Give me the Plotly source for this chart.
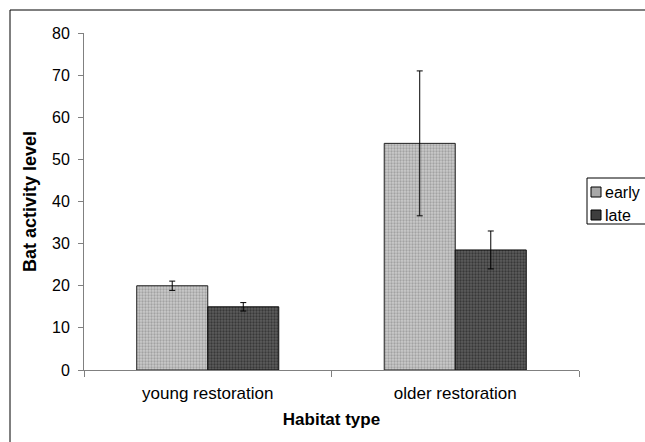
import plotly.graph_objects as go

categories = ["young restoration", "older restoration"]
series_names = ["early", "late"]
early = [20.0, 53.8]
early_err = [1.1, 17.2]
late = [15.0, 28.5]
late_err = [1.0, 4.5]
y_ticks = [0, 10, 20, 30, 40, 50, 60, 70, 80]

W, H = 645, 442
L, R, T, B = 84, 579, 33, 370
pw, ph = R - L, B - T


def px(x):
    return (x - L) / pw


def py(y):
    return (B - y) / ph


early_style = dict(fg="#7a7a7a", bg="#cacaca", solid="#a8a8a8")
late_style = dict(fg="#141414", bg="#5c5c5c", solid="#3e3e3e")

fig = go.Figure()
fig.add_trace(go.Bar(
    name=series_names[0], x=categories, y=early,
    error_y=dict(type="data", array=early_err, color="black", thickness=1, width=3),
    marker=dict(color=early_style["solid"], line=dict(color="#202020", width=1),
                pattern=dict(shape=".", fgcolor=early_style["fg"], bgcolor=early_style["bg"],
                             size=3, solidity=0.45)),
))
fig.add_trace(go.Bar(
    name=series_names[1], x=categories, y=late,
    error_y=dict(type="data", array=late_err, color="black", thickness=1, width=3),
    marker=dict(color=late_style["solid"], line=dict(color="#101010", width=1),
                pattern=dict(shape=".", fgcolor=late_style["fg"], bgcolor=late_style["bg"],
                             size=3, solidity=0.45)),
))

# outer chart border (right and bottom edges fall outside the picture)
fig.add_shape(type="rect", xref="paper", yref="paper",
              x0=px(10), x1=px(W + 20), y0=py(H + 20), y1=py(10),
              line=dict(color="black", width=1), fillcolor="rgba(0,0,0,0)", layer="below")

# legend box
fig.add_shape(type="rect", xref="paper", yref="paper",
              x0=px(587), x1=px(W + 20), y0=py(224), y1=py(178),
              line=dict(color="black", width=1), fillcolor="white")
for name, st, cy in [(series_names[0], early_style, 192), (series_names[1], late_style, 215)]:
    fig.add_shape(type="rect", xref="paper", yref="paper",
                  x0=px(591), x1=px(601), y0=py(cy + 5), y1=py(cy - 5),
                  line=dict(color="black", width=1), fillcolor=st["solid"])
    fig.add_annotation(xref="paper", yref="paper", x=px(603), y=py(cy),
                       xanchor="left", yanchor="middle", text=name, showarrow=False,
                       font=dict(size=16, color="black"))

fig.update_layout(
    width=W, height=H,
    margin=dict(l=L, r=W - R, t=T, b=H - B),
    paper_bgcolor="white", plot_bgcolor="white",
    barmode="group", bargap=0.426, bargroupgap=0,
    font=dict(family="Liberation Sans, Arial, sans-serif", size=16, color="black"),
    showlegend=False,
    xaxis=dict(
        title=dict(text="<b>Habitat type</b>", font=dict(size=17), standoff=10),
        tickfont=dict(size=17), ticklabelstandoff=8,
        showline=True, linecolor="#808080", linewidth=1,
        ticks="outside", tickson="boundaries", ticklen=6, tickcolor="#808080",
        showgrid=False, zeroline=False,
    ),
    yaxis=dict(
        title=dict(text="<b>Bat activity level</b>", font=dict(size=18), standoff=10),
        range=[0, 80], tickvals=y_ticks, tickfont=dict(size=16), ticklabelstandoff=5,
        showline=True, linecolor="#808080", linewidth=1,
        ticks="outside", ticklen=5, tickcolor="#808080",
        showgrid=False, zeroline=False,
    ),
)

fig.write_html(
    "out.html",
    config={"displayModeBar": False},
    post_script="document.body.style.margin='0';document.documentElement.style.overflow='hidden';",
)
